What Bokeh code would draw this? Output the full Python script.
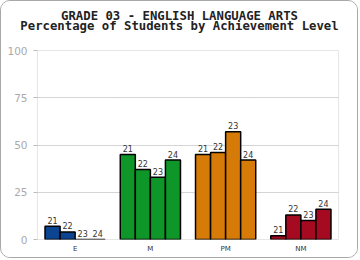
from bokeh.plotting import figure
from bokeh.layouts import column
from bokeh.models import ColumnDataSource, FixedTicker, Range1d
from bokeh.core.properties import value
from bokeh.embed import file_html
from bokeh.resources import INLINE

title1 = "GRADE 03 - ENGLISH LANGUAGE ARTS"
title2 = "Percentage of Students by Achievement Level"
levels = ["E", "M", "PM", "NM"]
years = ["21", "22", "23", "24"]
level_colors = ["#0B4591", "#0F9628", "#D77B08", "#A50A21"]
vals_E = [7, 4, 0, 0]
vals_M = [45, 37, 33, 42]
vals_PM = [45, 46, 57, 42]
vals_NM = [2, 13, 10, 16]
y_ticks = [0, 25, 50, 75, 100]

W = 356
TITLE_H = 41
PLOT_H = 215

# ---- title strip (pixel-like coordinates) ----
tf = figure(width=W, height=TITLE_H, output_backend="svg", toolbar_location=None,
            x_range=Range1d(0, W), y_range=Range1d(0, TITLE_H),
            x_axis_type=None, y_axis_type=None,
            min_border_left=0, min_border_right=0, min_border_top=0, min_border_bottom=0)
tf.outline_line_color = None
tf.background_fill_color = "white"
tf.border_fill_color = "white"
tf.grid.grid_line_color = None
tsrc = ColumnDataSource(dict(x=[178, 178], y=[TITLE_H - 14.5, TITLE_H - 24.2],
                             t=[title1, title2]))
tf.text(x="x", y="y", text="t", source=tsrc, text_align="center",
        text_baseline="alphabetic", text_font=value("DejaVu Sans Mono"),
        text_font_size="12.3px", text_font_style="bold", text_color="#222222")

# ---- bar chart ----
all_vals = [vals_E, vals_M, vals_PM, vals_NM]
bar_w = 0.2
xs, tops, cols, labs = [], [], [], []
for gi, vals in enumerate(all_vals):
    for j, v in enumerate(vals):
        xs.append(gi + 0.5 + (j - 1.5) * bar_w)
        tops.append(v)
        cols.append(level_colors[gi])
        labs.append(years[j])
src = ColumnDataSource(dict(x=xs, top=tops, color=cols, lab=labs))

p = figure(width=W, height=PLOT_H, output_backend="svg", toolbar_location=None,
           x_range=Range1d(0, 4), y_range=Range1d(0, 100),
           min_border_left=36, min_border_right=19, min_border_top=8, min_border_bottom=18,
           title=None)
p.background_fill_color = "white"
p.border_fill_color = "white"
p.outline_line_color = "#e6e6e6"
p.outline_line_width = 1

for fig in (tf, p):
    if "frame_align" in fig.properties():
        fig.frame_align = False

p.vbar(x="x", top="top", width=bar_w, bottom=0, source=src, fill_color="color",
       line_color="black", line_width=1.5)
p.text(x="x", y="top", text="lab", source=src, text_font=value("DejaVu Sans"),
       text_font_size="8px", text_color="#333333", text_align="center",
       text_baseline="alphabetic", y_offset=-6)

p.xaxis.ticker = FixedTicker(ticks=[0.5, 1.5, 2.5, 3.5])
p.xaxis.major_label_overrides = {0.5: levels[0], 1.5: levels[1], 2.5: levels[2], 3.5: levels[3]}
p.xaxis.axis_line_color = None
p.xaxis.major_tick_line_color = None
p.xaxis.major_tick_out = 0
p.xaxis.major_tick_in = 0
p.xaxis.minor_tick_line_color = None
p.xaxis.minor_tick_out = 0
p.xaxis.major_label_standoff = 5
p.xaxis.major_label_text_font = "DejaVu Sans"
p.xaxis.major_label_text_font_size = "7px"
p.xaxis.major_label_text_color = "#333333"

p.yaxis.ticker = FixedTicker(ticks=y_ticks)
p.yaxis.axis_line_color = None
p.yaxis.major_tick_line_color = "#bbbbbb"
p.yaxis.major_tick_out = 4
p.yaxis.major_tick_in = 0
p.yaxis.minor_tick_line_color = None
p.yaxis.major_label_standoff = 6
p.yaxis.major_label_text_font = "DejaVu Sans"
p.yaxis.major_label_text_font_size = "10.5px"
p.yaxis.major_label_text_color = "#aaaaaa"

p.xgrid.grid_line_color = None
p.ygrid.ticker = FixedTicker(ticks=y_ticks[1:-1])
p.ygrid.grid_line_color = "#aaaaaa"
p.ygrid.grid_line_dash = "1 1"
p.ygrid.grid_line_width = 1

layout = column(tf, p, spacing=0)
layout.styles = {"border": "1.5px solid #a8a8a8", "border-radius": "10px",
                 "background-color": "white", "overflow": "hidden"}

open("out.html", "w").write(file_html(layout, INLINE))
